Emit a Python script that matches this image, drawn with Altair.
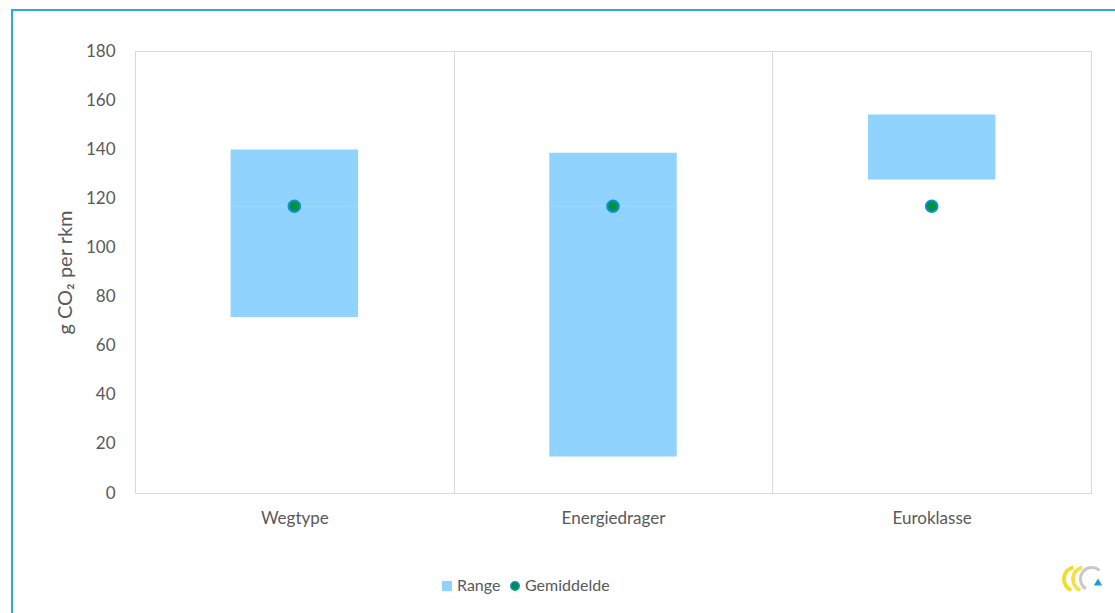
import altair as alt
import pandas as pd

# Chart values
categories = ["Wegtype", "Energiedrager", "Euroklasse"]
range_low = [71.7, 14.9, 127.7]
range_high = [139.9, 138.6, 154.1]
mean_value = [116.8, 116.8, 116.8]
y_ticks = [0, 20, 40, 60, 80, 100, 120, 140, 160, 180]
series_names = ["Range", "Gemiddelde"]

TEXT = "#595959"
FONT = "Lato"
BAR = "#8fd3fe"
GREEN = "#00913f"
DOT_EDGE = "#0c90d8"
GRID = "#d9d9d9"
FRAME = "#29abe2"

ranges = pd.DataFrame({
    "cat": categories,
    "low": range_low,
    "high": range_high,
    "mean": mean_value,
    "series": series_names[0],
})
means = pd.DataFrame({
    "cat": categories,
    "mean": mean_value,
    "series": series_names[1],
})
# seam between the two stacked parts, only where the mean falls inside the range
seam = ranges[(ranges["low"] < ranges["mean"]) & (ranges["mean"] < ranges["high"])]

x_axis = alt.Axis(title=None, labelAngle=0, ticks=False, tickBand="extent",
                  grid=True, domain=False, labelFont=FONT, labelFontSize=17,
                  labelColor=TEXT, labelPadding=17, gridColor=GRID)
y_axis = alt.Axis(title="g CO\u2082 per rkm", values=y_ticks, grid=False,
                  ticks=False, domain=False, labelFont=FONT, labelFontSize=17,
                  labelColor=TEXT, labelPadding=20,
                  titleFont=FONT, titleFontSize=20, titleColor=TEXT,
                  titleFontWeight="normal", titleX=-70, titleY=221,
                  titleAngle=270, titleAlign="center", titleBaseline="middle")
x_scale = alt.Scale(paddingInner=0, paddingOuter=0)
y_scale = alt.Scale(domain=[0, 180], nice=False)

x_enc = alt.X("cat:N", sort=categories, scale=x_scale, axis=x_axis)

fill_scale = alt.Scale(domain=series_names, range=[BAR, GREEN])
stroke_scale = alt.Scale(domain=series_names, range=[BAR, DOT_EDGE])
shape_scale = alt.Scale(domain=series_names, range=["square", "circle"])
legend = alt.Legend(title=None, orient="none", direction="horizontal",
                    legendX=304, legendY=527)

bars = alt.Chart(ranges).mark_bar(width=alt.RelativeBandSize(0.4)).encode(
    x=x_enc,
    y=alt.Y("low:Q", scale=y_scale, axis=y_axis),
    y2="high:Q",
    fill=alt.Fill("series:N", scale=fill_scale, legend=legend),
)

seam_line = alt.Chart(seam).mark_tick(
    size=127, thickness=1, color="#a3dbff", opacity=0.9
).encode(x=x_enc, y=alt.Y("mean:Q", scale=y_scale, axis=y_axis))

dots = alt.Chart(means).mark_point(filled=True, size=135, strokeWidth=2, opacity=1).encode(
    x=x_enc,
    y=alt.Y("mean:Q", scale=y_scale, axis=y_axis),
    fill=alt.Fill("series:N", scale=fill_scale, legend=legend),
    stroke=alt.Stroke("series:N", scale=stroke_scale, legend=legend),
    shape=alt.Shape("series:N", scale=shape_scale, legend=legend),
)

one = alt.Data(values=[{}])

# outer frame lines (left and top)
frame_left = alt.Chart(one).mark_rule(color=FRAME, strokeWidth=2).encode(
    x=alt.value(-123), y=alt.value(-41), y2=alt.value(570)
)
frame_top = alt.Chart(one).mark_rule(color=FRAME, strokeWidth=2).encode(
    x=alt.value(-124), x2=alt.value(980), y=alt.value(-41)
)

# small logo in the lower right corner
def logo_arc(cx, cy, r_out, r_in, t0, t1, color):
    return alt.Chart(one).mark_arc(
        radius=r_out, radius2=r_in, theta=t0, theta2=t1, color=color
    ).encode(x=alt.value(cx), y=alt.value(cy))

logo = [
    logo_arc(941, 528, 14, 10, 3.55, 6.05, "#f2dc2a"),
    logo_arc(950, 528, 14, 10, 3.55, 6.05, "#f5e04a"),
    logo_arc(957, 528, 13, 10, 3.7, 7.0, "#c8c8c8"),
    alt.Chart(one).mark_point(shape="triangle-up", filled=True, size=70,
                              color="#1e9be0", opacity=1).encode(
        x=alt.value(963), y=alt.value(531)
    ),
]

chart = alt.layer(
    bars, seam_line, dots, frame_left, frame_top, *logo
).properties(
    width=956, height=442,
    autosize=alt.AutoSizeParams(type="none"),
    padding={"left": 135, "top": 51, "right": 24, "bottom": 120},
    background="white",
).configure_view(
    stroke=GRID, strokeWidth=1
).configure_legend(
    labelFont=FONT, labelFontSize=16, labelColor=TEXT,
    symbolSize=72, symbolStrokeWidth=1.5, columnPadding=6, labelOffset=2,
)

chart.save("out.html", embed_options={"renderer": "svg", "actions": False})
